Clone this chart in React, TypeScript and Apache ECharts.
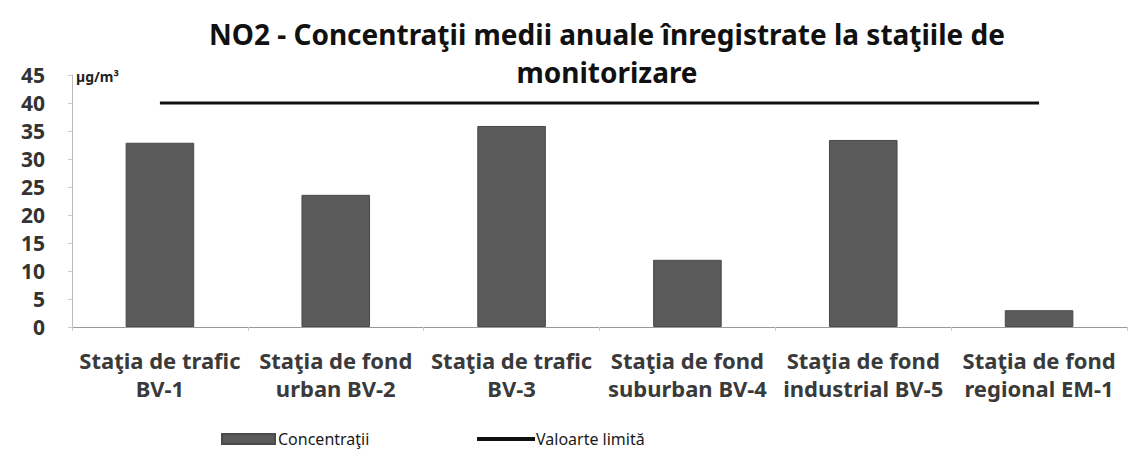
import React, { useEffect, useRef } from "react";
import * as echarts from "echarts";

const categories = [
  "Staţia de trafic\nBV-1",
  "Staţia de fond\nurban BV-2",
  "Staţia de trafic\nBV-3",
  "Staţia de fond\nsuburban BV-4",
  "Staţia de fond\nindustrial BV-5",
  "Staţia de fond\nregional EM-1",
];
const concentratii = [32.9, 23.6, 35.9, 12.0, 33.4, 3.0];
const valoareLimita = [40, 40, 40, 40, 40, 40];
const yTicks = [0, 5, 10, 15, 20, 25, 30, 35, 40, 45];

const FONT = "'Noto Sans', 'Open Sans', sans-serif";

export default function App() {
  const ref = useRef<HTMLDivElement>(null);
  useEffect(() => {
    if (!ref.current) return;
    const chart = echarts.init(ref.current, undefined, { renderer: "svg" });
    chart.setOption({
      animation: false,
      backgroundColor: "#ffffff",
      textStyle: { fontFamily: FONT },
      title: {
        text: "NO2 - Concentraţii medii anuale înregistrate la staţiile de\nmonitorizare",
        left: 594,
        top: 2,
        textAlign: "center",
        textStyle: {
          fontFamily: FONT,
          fontWeight: "bold",
          fontSize: 28,
          lineHeight: 38,
          color: "#111111",
        },
      },
      legend: [
        {
          bottom: 3,
          left: 208,
          itemWidth: 53,
          itemHeight: 10,
          itemGap: 4,
          textStyle: { fontFamily: FONT, fontSize: 16, color: "#1a1a1a", padding: [0, 0, 0, -2] },
          data: [{ name: "Concentraţii", icon: "rect" }],
        },
        {
          bottom: 3,
          left: 464,
          itemWidth: 58,
          itemHeight: 4,
          textStyle: { fontFamily: FONT, fontSize: 16, color: "#1a1a1a", padding: [0, 0, 0, -4] },
          data: [{ name: "Valoarte limită", icon: "rect", itemStyle: { color: "#111111" } }],
        },
      ],
      grid: { left: 64, right: 7, top: 67, bottom: 128, containLabel: false },
      xAxis: {
        type: "category",
        data: categories,
        axisLine: { show: true, lineStyle: { color: "#999999", width: 1 } },
        axisTick: { show: true, alignWithLabel: false, length: 4, lineStyle: { color: "#cccccc" } },
        axisLabel: {
          interval: 0,
          fontSize: 22,
          fontWeight: "bold",
          lineHeight: 28,
          color: "#3a3a3a",
          margin: 19,
          fontFamily: FONT,
        },
      },
      yAxis: {
        type: "value",
        min: 0,
        max: 45,
        interval: 5,
        name: "µg/m³",
        nameLocation: "end",
        nameGap: -8,
        nameTextStyle: {
          fontFamily: FONT,
          fontWeight: "bold",
          fontSize: 14,
          color: "#222222",
          align: "left",
          padding: [0, 0, 0, 4],
        },
        axisLine: { show: true, lineStyle: { color: "#bbbbbb", width: 1 } },
        axisTick: { show: true, length: 4, lineStyle: { color: "#cccccc" } },
        splitLine: { show: false },
        axisLabel: {
          fontSize: 21,
          fontWeight: "bold",
          color: "#333333",
          margin: 27,
          fontFamily: FONT,
          formatter: (v: number) => (yTicks.includes(v) ? String(v) : ""),
        },
      },
      series: [
        {
          name: "Concentraţii",
          type: "bar",
          data: concentratii,
          barWidth: "39%",
          itemStyle: { color: "#5a5a5a", borderColor: "#4a4a4a", borderWidth: 1 },
        },
        {
          name: "Valoarte limită",
          type: "line",
          data: valoareLimita,
          symbol: "none",
          lineStyle: { color: "#111111", width: 3 },
          itemStyle: { color: "#111111" },
        },
      ],
    });
    return () => chart.dispose();
  }, []);
  return <div ref={ref} style={{ width: 1126, height: 447 }} />;
}
